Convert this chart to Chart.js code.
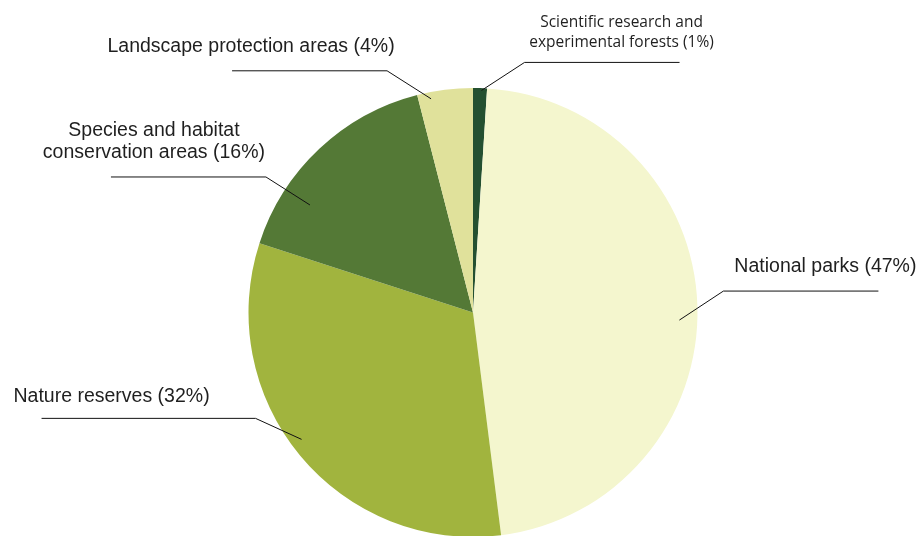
<!DOCTYPE html>
<html>
<head>
<meta charset="utf-8">
<script src="https://cdn.jsdelivr.net/npm/chart.js@4"></script>
<style>
  html, body { margin: 0; padding: 0; background: #fff; overflow: hidden; }
  #wrap { position: relative; width: 919px; height: 540px; }
</style>
</head>
<body>
<div id="wrap"><canvas id="areas"></canvas></div>
<script>
// protected area categories, clockwise from 12 o'clock
const categories = [
  'Scientific research and\nexperimental forests',
  'National parks',
  'Nature reserves',
  'Species and habitat\nconservation areas',
  'Landscape protection areas'
];
const shares = [1, 47, 32, 16, 4];
const colors = ['#245030', '#f4f6ce', '#a1b43e', '#547936', '#e0e19b'];

// leader line layout per slice: angle tweak (deg), start radius fraction,
// elbow offset, horizontal run, text offset from elbow, font
const callouts = [
  { tweak: 0.4, k: 0.99, ex: 43, ey: -28, run: 155, tx: 97, ty: -35, gap: 20, font: '15.5px "Open Sans"' },
  { tweak: 3.9, k: 0.92, ex: 44, ey: -29, run: 155, tx: 102, ty: -19, gap: 24, font: '19.5px "Liberation Sans"' },
  { tweak: 3.1, k: 0.95, ex: -46, ey: -21, run: -214, tx: -144, ty: -16, gap: 24, font: '19.5px "Liberation Sans"' },
  { tweak: -13.4, k: 0.87, ex: -44, ey: -28, run: -155, tx: -112, ty: -41, gap: 22, font: '19.5px "Liberation Sans"' },
  { tweak: -3.9, k: 0.97, ex: -44, ey: -28, run: -155, tx: -136, ty: -19, gap: 24, font: '19.5px "Liberation Sans"' }
];

const leaderLabels = {
  id: 'leaderLabels',
  afterDraw(chart) {
    const ctx = chart.ctx;
    const meta = chart.getDatasetMeta(0);
    meta.data.forEach((arc, i) => {
      const c = callouts[i];
      const mid = (arc.startAngle + arc.endAngle) / 2 + c.tweak * Math.PI / 180;
      const sx = arc.x + Math.cos(mid) * arc.outerRadius * c.k;
      const sy = arc.y + Math.sin(mid) * arc.outerRadius * c.k;
      const bx = sx + c.ex, by = sy + c.ey;
      ctx.save();
      ctx.strokeStyle = '#111';
      ctx.lineWidth = 1;
      ctx.beginPath();
      ctx.moveTo(sx, sy);
      ctx.lineTo(bx, by);
      ctx.lineTo(bx + c.run, by);
      ctx.stroke();

      const lines = (categories[i] + ' (' + shares[i] + '%)').split('\n');
      ctx.fillStyle = '#1f1f1f';
      ctx.font = c.font;
      ctx.textAlign = 'center';
      ctx.textBaseline = 'alphabetic';
      lines.forEach((ln, j) => {
        ctx.fillText(ln, bx + c.tx, by + c.ty + j * c.gap);
      });
      ctx.restore();
    });
  }
};

new Chart(document.getElementById('areas'), {
  type: 'pie',
  data: {
    labels: categories,
    datasets: [{
      data: shares,
      backgroundColor: colors,
      borderWidth: 0
    }]
  },
  options: {
    responsive: true,
    maintainAspectRatio: false,
    animation: false,
    layout: { padding: { top: 88, bottom: 3, left: 248, right: 221 } },
    plugins: {
      legend: { display: false },
      tooltip: { enabled: false }
    }
  },
  plugins: [leaderLabels]
});
</script>
</body>
</html>
